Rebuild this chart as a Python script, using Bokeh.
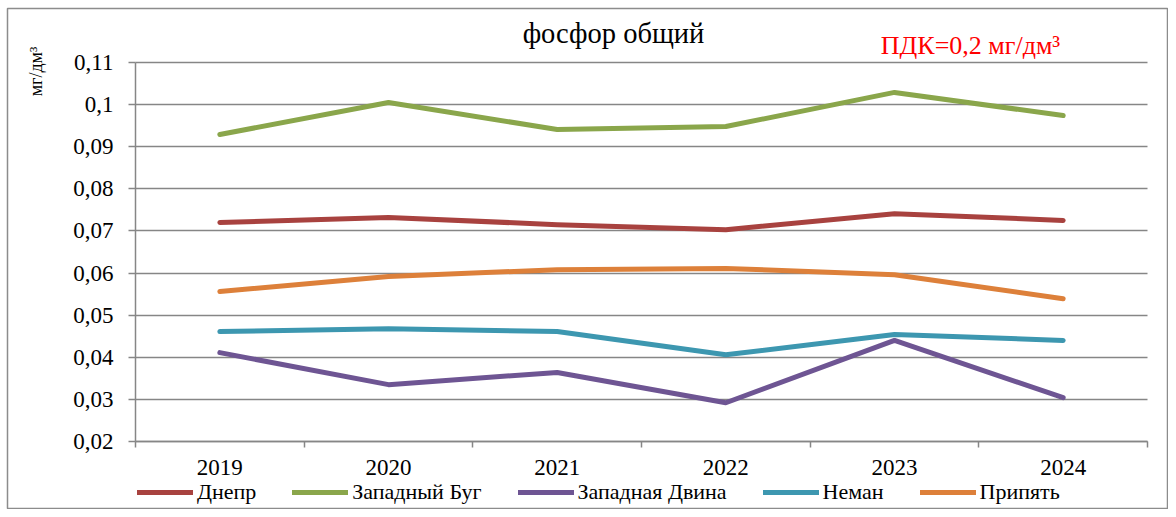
from bokeh.plotting import figure
from bokeh.models import (Range1d, FixedTicker, CustomJSTickFormatter, Label,
                          Legend, LegendItem)
from bokeh.embed import file_html
from bokeh.resources import INLINE
import math

years = [2019, 2020, 2021, 2022, 2023, 2024]
year_labels = ["2019", "2020", "2021", "2022", "2023", "2024"]
dnepr = [0.0720, 0.0732, 0.0715, 0.0703, 0.0741, 0.0725]
zap_bug = [0.0929, 0.1005, 0.0941, 0.0948, 0.1029, 0.0974]
zap_dvina = [0.0411, 0.0335, 0.0364, 0.0292, 0.0440, 0.0304]
neman = [0.0461, 0.0468, 0.0461, 0.0406, 0.0454, 0.0440]
pripyat = [0.0556, 0.0592, 0.0608, 0.0611, 0.0596, 0.0539]
y_ticks = [0.02, 0.03, 0.04, 0.05, 0.06, 0.07, 0.08, 0.09, 0.10, 0.11]

series = [
    ("Днепр", dnepr, "#A8423F"),
    ("Западный Буг", zap_bug, "#8AA64B"),
    ("Западная Двина", zap_dvina, "#6E5593"),
    ("Неман", neman, "#3D97B0"),
    ("Припять", pripyat, "#DD803A"),
]

FONT = "Liberation Serif"
GRID = "#868686"

# ---- layout (pixels from the figure's top-left corner) ----
W, H = 1168, 509
FR_L, FR_T = 7, 8                      # outer chart border
AX_L, AX_R, AX_T, AX_B = 135, 1147, 62, 441
x_lo, x_hi = years[0] - 0.5, years[-1] + 0.5
y_lo, y_hi = y_ticks[0], y_ticks[-1]
XS = (AX_R - AX_L) / (x_hi - x_lo)
YS = (AX_B - AX_T) / (y_hi - y_lo)


def xd(px):
    return x_lo + (px - AX_L) / XS


def yd(py):
    return y_hi - (py - AX_T) / YS


p = figure(width=W, height=H, output_backend="svg", toolbar_location=None,
           x_range=Range1d(xd(FR_L), xd(W)),
           y_range=Range1d(yd(H), yd(FR_T)),
           min_border_left=FR_L, min_border_top=FR_T,
           min_border_right=0, min_border_bottom=0)
p.outline_line_color = "#8c8c8c"
p.outline_line_width = 1.5
p.background_fill_color = "white"
p.border_fill_color = "white"

# x axis
xa = p.xaxis[0]
xa.fixed_location = y_lo
xa.bounds = (x_lo, x_hi)
xa.ticker = FixedTicker(ticks=years, minor_ticks=[y - 0.5 for y in years] + [x_hi])
xa.major_label_overrides = {y: l for y, l in zip(years, year_labels)}
xa.major_tick_line_color = None
xa.major_tick_out = 6
xa.major_tick_in = 0
xa.minor_tick_line_color = GRID
xa.minor_tick_line_width = 1.5
xa.minor_tick_out = 6
xa.minor_tick_in = 0
xa.axis_line_color = GRID
xa.axis_line_width = 1.5
xa.major_label_standoff = 12
xa.major_label_text_font = FONT
xa.major_label_text_font_size = "23px"
xa.major_label_text_color = "black"
p.xgrid.grid_line_color = None

# y axis
ya = p.yaxis[0]
ya.fixed_location = x_lo
ya.bounds = (y_lo, y_hi)
ya.ticker = FixedTicker(ticks=y_ticks, minor_ticks=[])
ya.formatter = CustomJSTickFormatter(
    code="return parseFloat(tick.toFixed(2)).toString().replace('.', ',');")
ya.major_tick_line_color = GRID
ya.major_tick_line_width = 1.5
ya.major_tick_out = 7
ya.major_tick_in = 0
ya.minor_tick_line_color = None
ya.axis_line_color = GRID
ya.axis_line_width = 1.5
ya.major_label_standoff = 15
ya.major_label_text_font = FONT
ya.major_label_text_font_size = "23px"
ya.major_label_text_color = "black"
yg = p.ygrid[0]
yg.ticker = FixedTicker(ticks=y_ticks)
yg.bounds = (y_lo, y_hi)
yg.cross_bounds = (x_lo, x_hi)
yg.grid_line_color = GRID
yg.grid_line_width = 1.5

items = []
for name, vals, color in series:
    r = p.line(years, vals, line_color=color, line_width=5, line_cap="round",
               line_join="round")
    items.append(LegendItem(label=name, renderers=[r]))

legend = Legend(items=items, orientation="horizontal",
                location=(137 - FR_L, H - 505),
                padding=0, margin=0, spacing=36, label_standoff=4,
                glyph_width=56, glyph_height=22,
                label_text_font=FONT, label_text_font_size="22px",
                label_text_color="black",
                border_line_color=None, background_fill_alpha=0)
p.add_layout(legend, "center")

p.add_layout(Label(x=xd(613), y=yd(33), text="фосфор общий", text_font=FONT,
                   text_font_size="28.5px", text_align="center",
                   text_baseline="middle", text_color="black"))
p.add_layout(Label(x=xd(970), y=yd(45), text="ПДК=0,2 мг/дм³", text_font=FONT,
                   text_font_size="26px", text_align="center",
                   text_baseline="middle", text_color="#FF0000"))
p.add_layout(Label(x=xd(35), y=yd(71), text="мг/дм³", text_font=FONT,
                   text_font_size="18px", text_align="center",
                   text_baseline="middle", text_color="black", angle=math.pi / 2))

open("out.html", "w").write(file_html(p, INLINE))
